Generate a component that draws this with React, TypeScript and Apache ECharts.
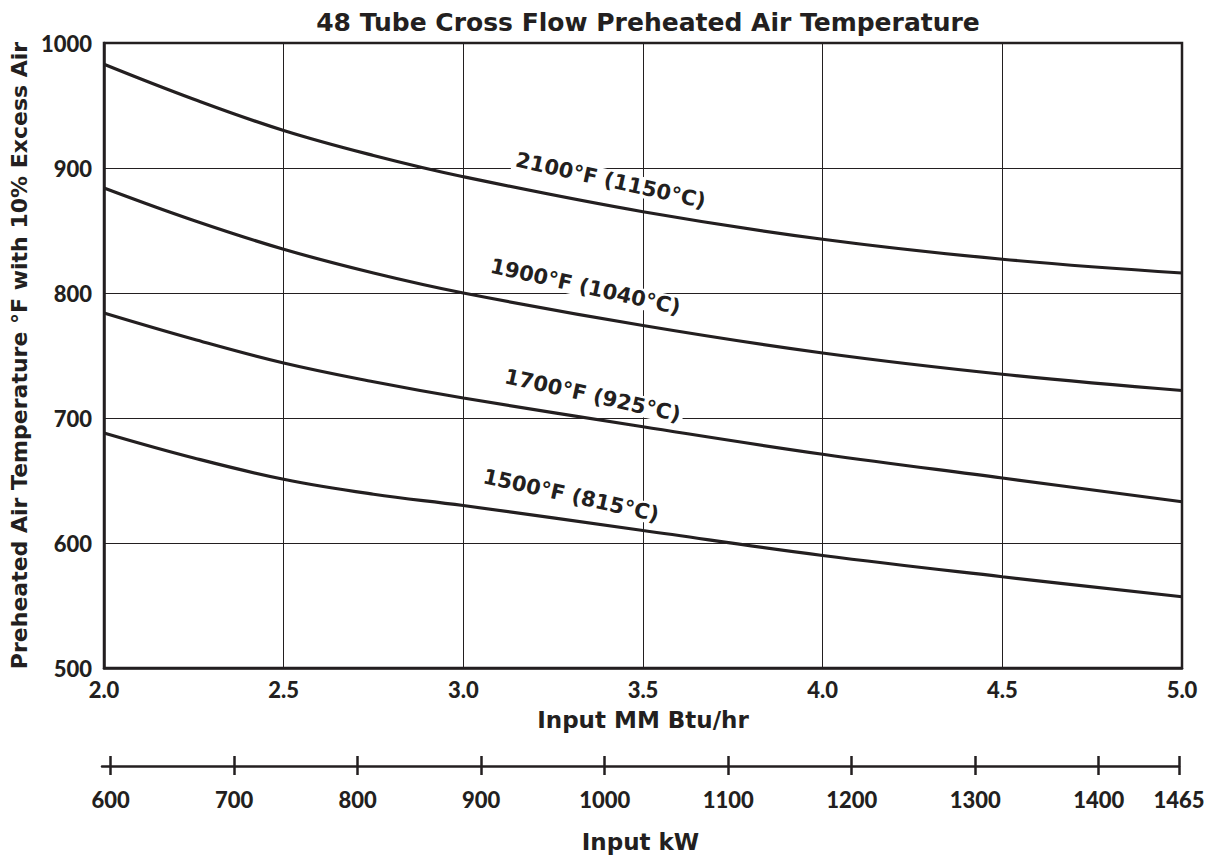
import React, { useEffect, useRef } from "react";
import * as echarts from "echarts";

const xValues = [2.0, 2.25, 2.5, 2.75, 3.0, 3.5, 4.0, 4.5, 5.0];
const curve2100 = [983, 955, 930, 910, 893, 865, 843, 827, 816];
const curve1900 = [884, 858, 835, 816, 800, 774, 752, 735, 722];
const curve1700 = [784, 763, 744, 729, 716, 693, 671, 652, 633];
const curve1500 = [688, 668, 651, 639, 630, 610, 590, 573, 557];
const curveNames = ["2100°F (1150°C)", "1900°F (1040°C)", "1700°F (925°C)", "1500°F (815°C)"];
const labelAnchors = [
  [3.41, 890],
  [3.34, 805],
  [3.36, 718],
  [3.3, 638],
];
const kwTicks = [600, 700, 800, 900, 1000, 1100, 1200, 1300, 1400, 1465];

const INK = "#231f20";
const NUM_FONT = "Lato";
const TXT_FONT = "DejaVu Sans";

export default function App() {
  const ref = useRef<HTMLDivElement>(null);
  useEffect(() => {
    if (!ref.current) return;
    const chart = echarts.init(ref.current, null, { renderer: "svg" });
    const curves = [curve2100, curve1900, curve1700, curve1500];
    const lineSeries = curves.map((c, i) => ({
      type: "line",
      name: curveNames[i],
      xAxisIndex: 0,
      yAxisIndex: 0,
      data: xValues.map((x, j) => [x, c[j]]),
      smooth: 0.4,
      symbol: "none",
      lineStyle: { color: INK, width: 3.2 },
      z: 3,
    }));
    const labelSeries = {
      type: "scatter",
      xAxisIndex: 0,
      yAxisIndex: 0,
      symbolSize: 0,
      itemStyle: { opacity: 1 },
      data: labelAnchors.map((p, i) => ({ value: p, name: curveNames[i] })),
      label: {
        show: true,
        position: "inside",
        formatter: (p: any) => p.name,
        rotate: -12.5,
        color: INK,
        fontFamily: TXT_FONT,
        fontWeight: "bold",
        fontSize: 21,
        backgroundColor: "#ffffff",
        padding: [0, 3],
      },
      z: 5,
    };
    const numText = { color: INK, fontFamily: NUM_FONT, fontWeight: 900, fontSize: 22 };
    const nameText = { color: INK, fontFamily: TXT_FONT, fontWeight: "bold", fontSize: 23 };
    const plain = (v: number) => String(v);
    chart.setOption({
      animation: false,
      backgroundColor: "#ffffff",
      title: {
        text: "48 Tube Cross Flow Preheated Air Temperature",
        left: 643,
        top: 5,
        textAlign: "center",
        textStyle: { color: INK, fontFamily: TXT_FONT, fontWeight: "bold", fontSize: 25 },
      },
      grid: [
        { left: 104, top: 43, width: 1078, height: 625, show: true, borderColor: INK, borderWidth: 2.5, backgroundColor: "transparent" },
        { left: 102, top: 766, width: 1077, height: 0 },
      ],
      xAxis: [
        {
          type: "value",
          gridIndex: 0,
          min: 2,
          max: 5,
          interval: 0.5,
          axisLine: { show: true, lineStyle: { color: INK, width: 2.5 } },
          axisTick: { show: false },
          splitLine: { show: true, lineStyle: { color: INK, width: 1 } },
          axisLabel: { ...numText, margin: 10, formatter: (v: number) => v.toFixed(1) },
          name: "Input MM Btu/hr",
          nameLocation: "middle",
          nameGap: 40,
          nameTextStyle: nameText,
        },
        {
          type: "value",
          gridIndex: 1,
          position: "bottom",
          min: 593,
          max: 1465,
          axisLine: { show: true, onZero: false, lineStyle: { color: INK, width: 2.5 } },
          axisTick: { show: true, customValues: kwTicks, length: 9, lineStyle: { color: INK, width: 2.5 } },
          splitLine: { show: false },
          axisLabel: { ...numText, margin: 22, customValues: kwTicks, formatter: plain },
          name: "Input kW",
          nameLocation: "middle",
          nameGap: 64,
          nameTextStyle: nameText,
        },
        {
          type: "value",
          gridIndex: 1,
          position: "top",
          min: 593,
          max: 1465,
          axisLine: { show: false, onZero: false },
          axisTick: { show: true, customValues: kwTicks, length: 10, lineStyle: { color: INK, width: 2.5 } },
          splitLine: { show: false },
          axisLabel: { show: false },
        },
      ],
      yAxis: [
        {
          type: "value",
          gridIndex: 0,
          min: 500,
          max: 1000,
          interval: 100,
          axisLine: { show: true, lineStyle: { color: INK, width: 2.5 } },
          axisTick: { show: false },
          splitLine: { show: true, lineStyle: { color: INK, width: 1 } },
          axisLabel: { ...numText, margin: 12, formatter: plain },
          name: "Preheated Air Temperature °F with 10% Excess Air",
          nameLocation: "middle",
          nameGap: 70,
          nameTextStyle: { ...nameText, fontSize: 22 },
        },
        { type: "value", gridIndex: 1, show: false, min: 0, max: 1 },
      ],
      series: [...lineSeries, labelSeries],
    });
    return () => chart.dispose();
  }, []);
  return (
    <div
      ref={ref}
      style={{ position: "fixed", left: 0, top: 0, width: 1212, height: 860, background: "#fff" }}
    />
  );
}
